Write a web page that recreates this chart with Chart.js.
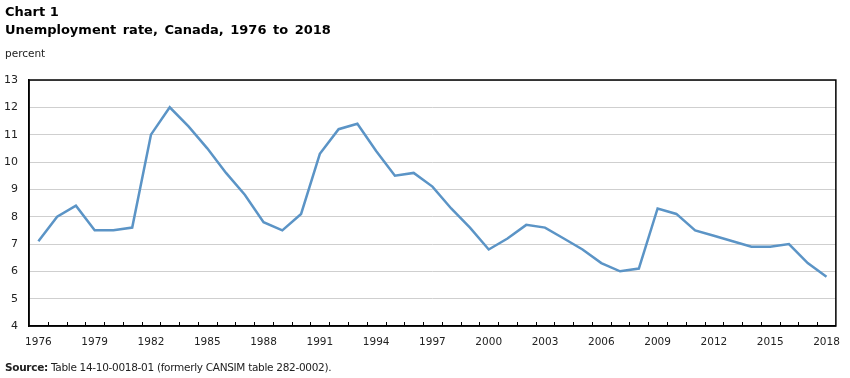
<!DOCTYPE html>
<html>
<head>
<meta charset="utf-8">
<script src="https://cdn.jsdelivr.net/npm/chart.js@4"></script>
<style>
  body { margin: 0; background: #fff; }
  #wrap { position: relative; width: 850px; height: 378px; }
  #chart { position: absolute; left: 0; top: 0; }
  .txt { position: absolute; left: 5px; color: #000; white-space: nowrap; }
  #t1 { top: 4px; font: bold 13px "DejaVu Sans", Verdana, sans-serif; }
  #t2 { top: 22px; font: bold 13px "DejaVu Sans", Verdana, sans-serif; word-spacing: 2px; }
  #unit { top: 47px; font: 10.5px "DejaVu Sans", Verdana, sans-serif; color: #222; }
  #src { top: 361px; font: 10.5px "DejaVu Sans", Tahoma, sans-serif; color: #222; letter-spacing: -0.3px; }
</style>
</head>
<body>
<div id="wrap">
  <canvas id="chart" width="850" height="378"></canvas>
  <div class="txt" id="t1">Chart 1</div>
  <div class="txt" id="t2">Unemployment rate, Canada, 1976 to 2018</div>
  <div class="txt" id="unit">percent</div>
  <div class="txt" id="src"><b>Source:</b> Table 14-10-0018-01 (formerly CANSIM table 282-0002).</div>
</div>
<script>
const years = [];
for (let y = 1976; y <= 2018; y++) years.push(String(y));

// unemployment rate, percent
const rates = [
  7.1, 8.0, 8.4, 7.5, 7.5, 7.6, 11.0, 12.0, 11.3, 10.5,
  9.6, 8.8, 7.8, 7.5, 8.1, 10.3, 11.2, 11.4, 10.4, 9.5,
  9.6, 9.1, 8.3, 7.6, 6.8, 7.2, 7.7, 7.6, 7.2, 6.8,
  6.3, 6.0, 6.1, 8.3, 8.1, 7.5, 7.3, 7.1, 6.9, 6.9,
  7.0, 6.3, 5.8
];

const yMin = 4;
const yMax = 13;

// box around the plot area + short inward ticks between years
const frame = {
  id: 'frame',
  afterDraw(chart) {
    const a = chart.chartArea;
    const ctx = chart.ctx;
    const x = chart.scales.x;
    const step = x.getPixelForValue(1) - x.getPixelForValue(0);
    ctx.save();
    ctx.strokeStyle = '#000';
    ctx.lineWidth = 1;
    ctx.beginPath();
    for (let i = 1; i < years.length; i++) {
      const px = Math.round(x.getPixelForValue(i) - step / 2) + 0.5;
      ctx.moveTo(px, a.bottom);
      ctx.lineTo(px, a.bottom - 4);
    }
    ctx.stroke();
    ctx.lineWidth = 1.5;
    ctx.strokeRect(a.left, a.top, a.right - a.left, a.bottom - a.top);
    ctx.restore();
  }
};

new Chart(document.getElementById('chart'), {
  type: 'line',
  data: {
    labels: years,
    datasets: [{
      data: rates,
      borderColor: '#5b94c6',
      borderWidth: 2.5,
      pointRadius: 0,
      tension: 0,
      fill: false
    }]
  },
  options: {
    responsive: false,
    animation: false,
    layout: { padding: { top: 80, right: 13, bottom: 22, left: 0 } },
    plugins: { legend: { display: false }, tooltip: { enabled: false } },
    scales: {
      x: {
        offset: true,
        grid: { display: false, drawTicks: false },
        border: { color: '#000', width: 1.5 },
        ticks: {
          autoSkip: false,
          maxRotation: 0,
          padding: 10,
          color: '#222',
          font: { family: 'DejaVu Sans', size: 10.5 },
          callback: function (v, i) { return i % 3 === 0 ? years[i] : ''; }
        },
        afterFit(scale) { scale.height = 30; }
      },
      y: {
        min: yMin,
        max: yMax,
        grid: { color: '#cfcfcf', drawTicks: false },
        border: { color: '#000', width: 1.5 },
        ticks: {
          stepSize: 1,
          padding: 11,
          color: '#222',
          font: { family: 'DejaVu Sans', size: 11 }
        },
        afterFit(scale) { scale.width = 29; }
      }
    }
  },
  plugins: [frame]
});
</script>
</body>
</html>
